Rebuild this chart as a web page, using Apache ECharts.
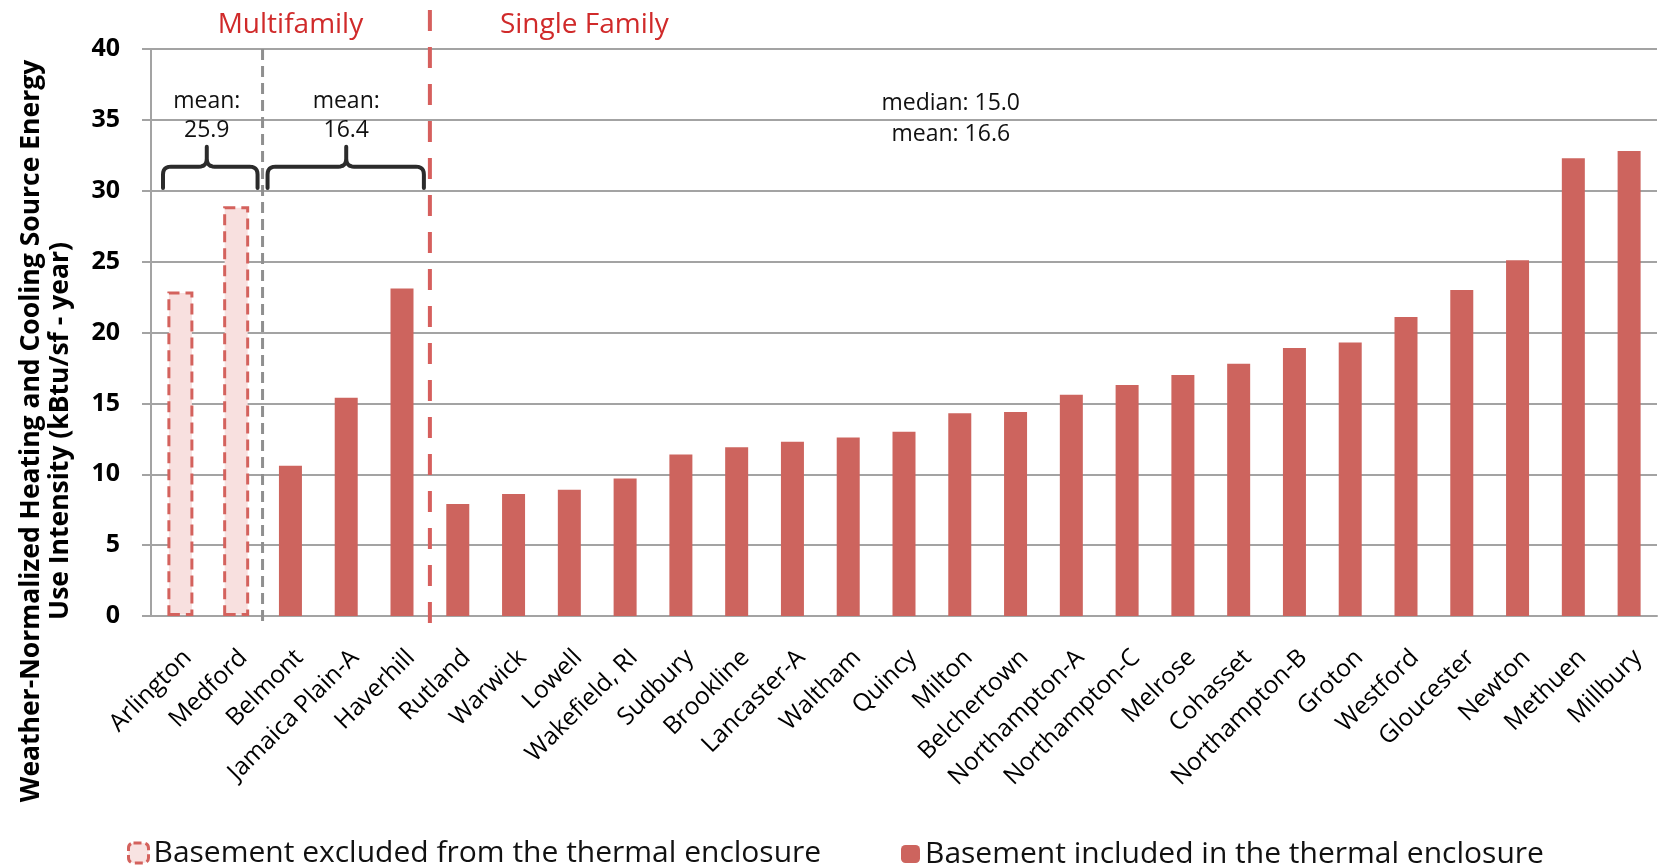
<!DOCTYPE html>
<html>
<head>
<meta charset="utf-8">
<title>Heating and cooling source energy use intensity</title>
<script src="https://cdn.jsdelivr.net/npm/echarts@6/dist/echarts.min.js"></script>
<style>
html, body { margin: 0; padding: 0; background: #fff; }
#main { width: 1663px; height: 867px; }
</style>
</head>
<body>
<div id="main"></div>
<script>
var categories = ['Arlington', 'Medford', 'Belmont', 'Jamaica Plain-A', 'Haverhill', 'Rutland', 'Warwick',
    'Lowell', 'Wakefield, RI', 'Sudbury', 'Brookline', 'Lancaster-A', 'Waltham', 'Quincy', 'Milton',
    'Belchertown', 'Northampton-A', 'Northampton-C', 'Melrose', 'Cohasset', 'Northampton-B', 'Groton',
    'Westford', 'Gloucester', 'Newton', 'Methuen', 'Millbury'];
// basement excluded (dashed bars)
var excludedValues = [22.9, 28.9, '-', '-', '-', '-', '-', '-', '-', '-', '-', '-', '-', '-', '-',
    '-', '-', '-', '-', '-', '-', '-', '-', '-', '-', '-', '-'];
// basement included (filled bars)
var includedValues = ['-', '-', 10.6, 15.4, 23.1, 7.9, 8.6, 8.9, 9.7, 11.4, 11.9, 12.3, 12.6, 13.0, 14.3,
    14.4, 15.6, 16.3, 17.0, 17.8, 18.9, 19.3, 21.1, 23.0, 25.1, 32.3, 32.8];
var yTicks = [0, 5, 10, 15, 20, 25, 30, 35, 40];
var seriesNames = ['Basement excluded from the thermal enclosure', 'Basement included in the thermal enclosure'];
var groupNotes = ['mean:\n25.9', 'mean:\n16.4', 'median: 15.0\nmean: 16.6'];

var FONT = '"Open Sans", "Noto Sans", sans-serif';
var GRID = '#a3a3a3';
var BAR = '#cd645e';
var RED_TEXT = '#d02a2a';

var chart = echarts.init(document.getElementById('main'));

var option = {
    animation: false,
    textStyle: { fontFamily: FONT },
    grid: { left: 151, right: 6, top: 49, bottom: 251 },
    legend: [{
        data: [{ name: seriesNames[0], itemStyle: { color: '#f8e3e2', borderColor: '#d4625d', borderWidth: 3, borderType: [8, 4] } }],
        left: 122, top: 833, itemWidth: 20, itemHeight: 20, selectedMode: false,
        textStyle: { fontSize: 30, color: '#111', fontFamily: FONT }
    }, {
        data: [{ name: seriesNames[1] }],
        left: 896, top: 834, itemWidth: 19, itemHeight: 18, selectedMode: false,
        textStyle: { fontSize: 30, color: '#111', fontFamily: FONT }
    }],
    xAxis: {
        type: 'category',
        data: categories,
        axisLine: { lineStyle: { color: GRID, width: 2 } },
        axisTick: { length: 9, lineStyle: { color: GRID, width: 2 } },
        axisLabel: {
            interval: 0, rotate: 45, margin: 29, fontSize: 24.5, color: '#000', fontFamily: FONT,
            verticalAlign: 'top'
        }
    },
    yAxis: {
        type: 'value',
        min: yTicks[0],
        max: yTicks[yTicks.length - 1],
        interval: yTicks[1] - yTicks[0],
        axisLine: { show: true, lineStyle: { color: GRID, width: 2 } },
        axisTick: { show: true, length: 9, lineStyle: { color: GRID, width: 2 } },
        splitLine: { lineStyle: { color: GRID, width: 2 } },
        axisLabel: { margin: 31, fontSize: 25, fontWeight: 'bold', color: '#000', fontFamily: FONT }
    },
    series: [{
        name: seriesNames[0],
        type: 'bar',
        data: excludedValues,
        barWidth: 26,
        barGap: '-100%',
        itemStyle: { color: '#f8e0df', borderColor: '#d4625d', borderWidth: 3, borderType: [11, 6] }
    }, {
        name: seriesNames[1],
        type: 'bar',
        data: includedValues,
        barWidth: 23,
        itemStyle: { color: BAR }
    }]
};
chart.setOption(option);

// annotations placed through the axes
function px(i, v) {
    return chart.convertToPixel({ xAxisIndex: 0, yAxisIndex: 0 }, [i, v]);
}
function boundaryX(i) { // between category i-1 and i
    return (px(i - 1, 0)[0] + px(i, 0)[0]) / 2;
}
function brace(xl, xr, xm, yb, yh, yt, r) {
    var pts = [];
    function quad(p0, c, p1) {
        for (var k = 0; k <= 6; k++) {
            var t = k / 6, a = (1 - t) * (1 - t), b = 2 * (1 - t) * t, d = t * t;
            pts.push([a * p0[0] + b * c[0] + d * p1[0], a * p0[1] + b * c[1] + d * p1[1]]);
        }
    }
    pts.push([xl, yb]);
    quad([xl, yh + r], [xl, yh], [xl + r, yh]);
    quad([xm - r, yh], [xm, yh], [xm, yh - r]);
    pts.push([xm, yt]);
    quad([xm, yh - r], [xm, yh], [xm + r, yh]);
    quad([xr - r, yh], [xr, yh], [xr, yh + r]);
    pts.push([xr, yb]);
    return {
        type: 'polyline', shape: { points: pts }, z: 50,
        style: { stroke: '#2b2b2b', lineWidth: 4, fill: null, lineJoin: 'round', lineCap: 'round' }
    };
}

var b1 = boundaryX(2), b2 = boundaryX(5);
var left0 = px(0, 0)[0] - (px(1, 0)[0] - px(0, 0)[0]) / 2;
var yb = px(0, 30.2)[1], yh = px(0, 31.7)[1], yt = px(0, 33.1)[1];
var top0 = px(0, 40)[1], base = px(0, 0)[1];
var noteFont = '23px ' + FONT;

var graphics = [
    // y axis title
    {
        type: 'text', x: 46, y: 431, rotation: Math.PI / 2, z: 50,
        style: {
            text: 'Weather-Normalized Heating and Cooling Source Energy\nUse Intensity (kBtu/sf - year)',
            font: 'bold 26.5px ' + FONT, align: 'center', verticalAlign: 'middle', lineHeight: 29, fill: '#000'
        }
    },
    // group separators
    {
        type: 'line', z: 40, shape: { x1: b1, y1: top0, x2: b1, y2: base + 9 },
        style: { stroke: '#8f8f8f', lineWidth: 3, lineDash: [11, 6] }
    },
    {
        type: 'line', z: 40, shape: { x1: b2, y1: 10, x2: b2, y2: base + 17 },
        style: { stroke: '#d65f5d', lineWidth: 4, lineDash: [21, 16] }
    },
    // group labels
    {
        type: 'text', x: (left0 + b2) / 2, y: 25, z: 50,
        style: { text: 'Multifamily', font: '28px ' + FONT, fill: RED_TEXT, align: 'center', verticalAlign: 'middle' }
    },
    {
        type: 'text', x: b2 + 70, y: 25, z: 50,
        style: { text: 'Single Family', font: '28px ' + FONT, fill: RED_TEXT, align: 'left', verticalAlign: 'middle' }
    },
    brace(left0 + 12, b1 - 5, (px(0, 0)[0] + px(1, 0)[0]) / 2, yb, yh, yt, 8),
    brace(b1 + 5, b2 - 6, px(3, 0)[0], yb, yh, yt, 8),
    {
        type: 'text', x: (px(0, 0)[0] + px(1, 0)[0]) / 2, y: px(0, 35.3)[1], z: 50,
        style: { text: groupNotes[0], font: noteFont, fill: '#111', align: 'center', verticalAlign: 'middle', lineHeight: 29 }
    },
    {
        type: 'text', x: px(3, 0)[0], y: px(0, 35.3)[1], z: 50,
        style: { text: groupNotes[1], font: noteFont, fill: '#111', align: 'center', verticalAlign: 'middle', lineHeight: 29 }
    },
    {
        type: 'text', x: px(14, 0)[0] - 9, y: px(0, 35.1)[1], z: 50,
        style: { text: groupNotes[2], font: noteFont, fill: '#111', align: 'center', verticalAlign: 'middle', lineHeight: 31 }
    }
];
chart.setOption({ graphic: graphics });
</script>
</body>
</html>
